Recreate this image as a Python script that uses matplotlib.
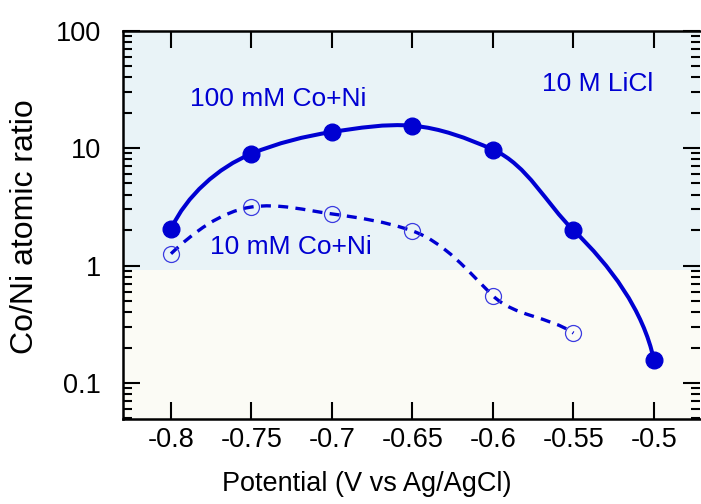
import numpy as np
import matplotlib
matplotlib.use("Agg")
from matplotlib import pyplot as plt
from matplotlib.path import Path
from matplotlib.patches import PathPatch
from matplotlib import ticker

plt.rcParams['font.family'] = ['Liberation Sans', 'DejaVu Sans']

# Data
potential = [-0.8, -0.75, -0.7, -0.65, -0.6, -0.55, -0.5]
ratio_100mM = [2.05, 8.95, 13.7, 15.5, 9.7, 2.0, 0.157]
potential_10mM = [-0.8, -0.75, -0.7, -0.65, -0.6, -0.55]
ratio_10mM = [1.26, 3.15, 2.75, 1.97, 0.553, 0.266]

line_col = '#0000d2'
open_col = '#3a3ae0'


def smooth_path(xs, ys, k):
    # Smooth Bezier through the markers. Tangent slopes come from the linear
    # scale (Fritsch-Carlson limited); handles are 1/3 of the chord measured
    # in screen-proportional units (x scaled by k, log10 y).
    x = np.asarray(xs, float)
    y = np.asarray(ys, float)
    ly = np.log10(y)
    n = len(x)
    s = np.empty(n)
    s[0] = (y[1] - y[0]) / (x[1] - x[0])
    s[-1] = (y[-1] - y[-2]) / (x[-1] - x[-2])
    s[1:-1] = (y[2:] - y[:-2]) / (x[2:] - x[:-2])
    m = s / (y * np.log(10))
    for i in range(n - 1):
        d = (ly[i + 1] - ly[i]) / (x[i + 1] - x[i])
        if d != 0:
            a, b = m[i] / d, m[i + 1] / d
            r = np.hypot(a, b)
            if r > 3:
                m[i], m[i + 1] = 3 * a * d / r, 3 * b * d / r
    u = x * k
    tu = 1 / np.hypot(1, m / k)
    tv = (m / k) * tu
    verts = [(u[0], ly[0])]
    codes = [Path.MOVETO]
    for i in range(n - 1):
        L = np.hypot(u[i + 1] - u[i], ly[i + 1] - ly[i]) / 3
        verts += [(u[i] + L * tu[i], ly[i] + L * tv[i]),
                  (u[i + 1] - L * tu[i + 1], ly[i + 1] - L * tv[i + 1]),
                  (u[i + 1], ly[i + 1])]
        codes += [Path.CURVE4] * 3
    verts = [(vu / k, 10 ** vv) for vu, vv in verts]
    return Path(verts, codes)


fig = plt.figure(figsize=(7.01, 5.04), dpi=100)
ax = fig.add_axes([0.1755, 0.1687, 0.823, 0.7706])
ax.set_yscale('log')
xlim = (-0.8298, -0.4714)
ylim = (0.0494, 100)
ax.set_xlim(*xlim)
ax.set_ylim(*ylim)

# screen aspect: pixels per unit x over pixels per decade
pos = ax.get_position()
w_px = pos.width * fig.get_figwidth()
h_px = pos.height * fig.get_figheight()
k = (w_px / (xlim[1] - xlim[0])) / (h_px / np.log10(ylim[1] / ylim[0]))

ax.set_facecolor('#fbfbf5')
ax.axhspan(0.925, 1000, color='#e9f3f7', zorder=0, lw=0)

ax.add_patch(PathPatch(smooth_path(potential, ratio_100mM, k), fill=False,
                       edgecolor=line_col, lw=2.9, zorder=2))
ax.add_patch(PathPatch(smooth_path(potential_10mM, ratio_10mM, k), fill=False,
                       edgecolor=line_col, lw=2.4, ls=(0, (3, 2.2)), zorder=2))

ax.plot(potential, ratio_100mM, 'o', ms=12, color=line_col, zorder=3)
ax.plot(potential_10mM, ratio_10mM, 'o', ms=11.5, mfc='none', mec=open_col,
        mew=0.9, zorder=3)

ann_kw = dict(color=line_col, fontsize=19, ha='left', va='center')
ax.text(-0.7882, 26.2, '100 mM Co+Ni', **ann_kw)
ax.text(-0.5696, 35.2, '10 M LiCl', **ann_kw)
ax.text(-0.7758, 1.44, '10 mM Co+Ni', **ann_kw)

ax.set_xticks(potential)
ax.xaxis.set_major_formatter(ticker.FuncFormatter(lambda v, p: '%g' % v))
ax.yaxis.set_major_locator(ticker.FixedLocator([0.1, 1, 10, 100]))
ax.yaxis.set_minor_locator(ticker.LogLocator(base=10, subs=np.arange(2, 10)))
ax.yaxis.set_major_formatter(ticker.FuncFormatter(lambda v, p: '%g' % v))
ax.yaxis.set_minor_formatter(ticker.NullFormatter())

ax.tick_params(which='both', direction='in', top=True, right=True,
               width=1.5, labelsize=19.5, colors='black')
ax.tick_params(which='major', length=12)
ax.tick_params(which='minor', length=6.5)
ax.tick_params(axis='x', which='major', pad=6)
ax.tick_params(axis='y', which='major', pad=16)

for side in ['left', 'bottom', 'top']:
    ax.spines[side].set_linewidth(1.8)
ax.spines['right'].set_visible(False)

ax.set_xlabel('Potential (V vs Ag/AgCl)', fontsize=19.5)
ax.xaxis.set_label_coords(0.423, -0.134)
ax.set_ylabel('Co/Ni atomic ratio', fontsize=23)
ax.yaxis.set_label_coords(-0.144, 0.494)

fig.savefig('out.png', dpi=100)
